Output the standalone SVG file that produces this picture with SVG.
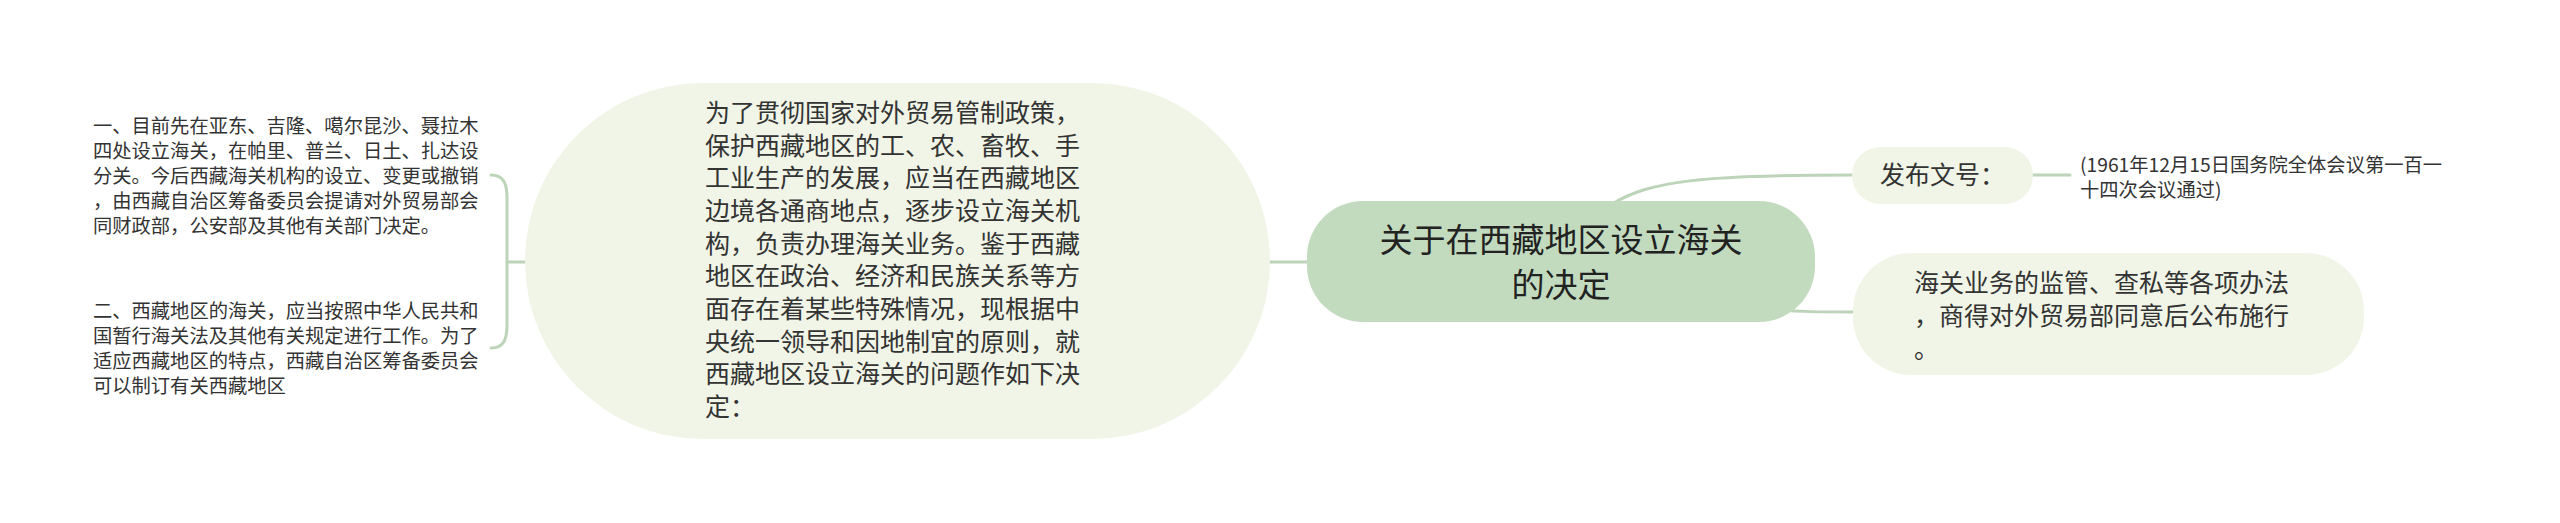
<svg xmlns="http://www.w3.org/2000/svg" width="2560" height="523" viewBox="0 0 2560 523">
<style>
text{font-family:"Noto Sans CJK SC","Noto Sans",sans-serif;fill:#333}
.s{font-size:19.3px}
.m{font-size:25px}
.r{font-size:33px;fill:#222}
.c{fill:none;stroke:#bcd4b8;stroke-width:3;stroke-linecap:round}
.lt{fill:#f0f5e7}
.dk{fill:#c2dbbe}
</style>
<rect width="2560" height="523" fill="#ffffff"/>
<g id="connectors">
<path class="c" d="M491,175 C504,175 507,184 507,198 L507,325 C507,339 504,348 491,348"/>
<path class="c" d="M507,262 L530,262"/>
<path class="c" d="M1265,262 L1312,262"/>
<path class="c" d="M1612,204 C1650,181 1700,175 1856,175"/>
<path class="c" d="M1770,309 C1800,312 1820,312 1858,312"/>
<path class="c" d="M2030,175 L2070,175"/>
</g>
<g id="left1">
<text class="s" x="93" y="133">一、目前先在亚东、吉隆、噶尔昆沙、聂拉木</text>
<text class="s" x="93" y="158">四处设立海关，在帕里、普兰、日土、扎达设</text>
<text class="s" x="93" y="183">分关。今后西藏海关机构的设立、变更或撤销</text>
<text class="s" x="93" y="208">，由西藏自治区筹备委员会提请对外贸易部会</text>
<text class="s" x="93" y="233">同财政部，公安部及其他有关部门决定。</text>
</g>
<g id="left2">
<text class="s" x="93" y="318">二、西藏地区的海关，应当按照中华人民共和</text>
<text class="s" x="93" y="343">国暂行海关法及其他有关规定进行工作。为了</text>
<text class="s" x="93" y="368">适应西藏地区的特点，西藏自治区筹备委员会</text>
<text class="s" x="93" y="393">可以制订有关西藏地区</text>
</g>
<g id="preamble">
<rect class="lt" x="525" y="83" width="745" height="356" rx="178" ry="178"/>
<text class="m" x="705" y="122">为了贯彻国家对外贸易管制政策，</text>
<text class="m" x="705" y="155">保护西藏地区的工、农、畜牧、手</text>
<text class="m" x="705" y="187">工业生产的发展，应当在西藏地区</text>
<text class="m" x="705" y="220">边境各通商地点，逐步设立海关机</text>
<text class="m" x="705" y="253">构，负责办理海关业务。鉴于西藏</text>
<text class="m" x="705" y="285">地区在政治、经济和民族关系等方</text>
<text class="m" x="705" y="318">面存在着某些特殊情况，现根据中</text>
<text class="m" x="705" y="351">央统一领导和因地制宜的原则，就</text>
<text class="m" x="705" y="383">西藏地区设立海关的问题作如下决</text>
<text class="m" x="705" y="416">定：</text>
</g>
<g id="root">
<rect class="dk" x="1307" y="201" width="508" height="121" rx="56" ry="56"/>
<text class="r" x="1561" y="252" text-anchor="middle">关于在西藏地区设立海关</text>
<text class="r" x="1561" y="297" text-anchor="middle">的决定</text>
</g>
<g id="fabu">
<rect class="lt" x="1852" y="147" width="181" height="57" rx="28.5" ry="28.5"/>
<text class="m" x="1880" y="184">发布文号：</text>
</g>
<g id="fabu-text">
<text class="s" x="2080" y="172">(1961年12月15日国务院全体会议第一百一</text>
<text class="s" x="2080" y="197">十四次会议通过)</text>
</g>
<g id="rule">
<rect class="lt" x="1853" y="253" width="511" height="122" rx="58" ry="58"/>
<text class="m" x="1914" y="292">海关业务的监管、查私等各项办法</text>
<text class="m" x="1914" y="325">，商得对外贸易部同意后公布施行</text>
<text class="m" x="1914" y="358">。</text>
</g>
</svg>
